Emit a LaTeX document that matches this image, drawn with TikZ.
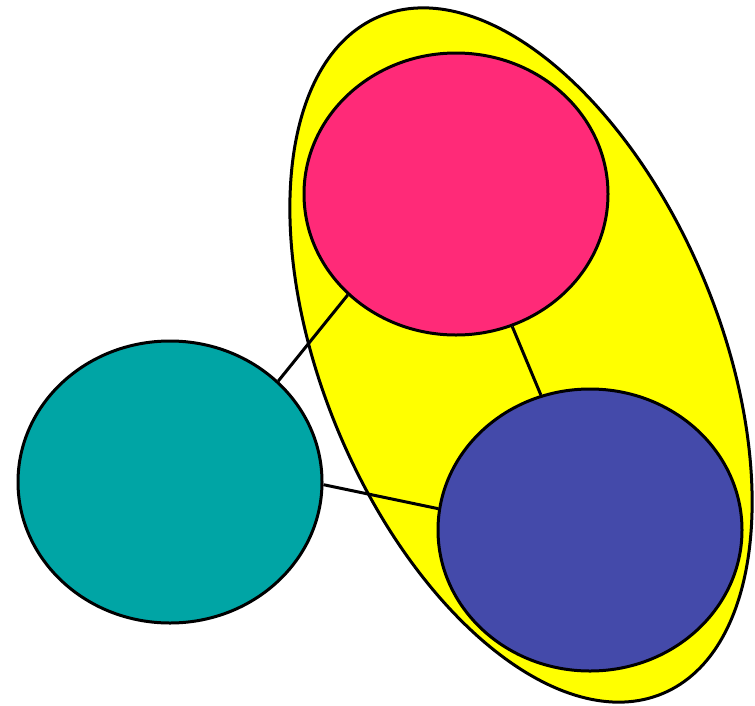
\documentclass[tikz,border=0pt]{standalone}
\usetikzlibrary{shapes.geometric}
\definecolor{pinkc}{RGB}{255,42,120}
\definecolor{tealc}{RGB}{0,165,165}
\definecolor{bluec}{RGB}{68,74,170}
\definecolor{yellowc}{RGB}{255,255,0}
\begin{document}
\begin{tikzpicture}[x=1pt,y=-1pt,
  blob/.style={ellipse,draw=black,line width=3pt,minimum width=304pt,minimum height=282pt,inner sep=0pt},
  link/.style={draw=black,line width=3pt}]
\useasboundingbox (0,0) rectangle (755,705);
\node[ellipse,draw=black,line width=3pt,fill=yellowc,minimum width=734pt,minimum height=396pt,inner sep=0pt,rotate=-67.3] (group) at (521,355) {};
\node[blob,fill=pinkc] (pink) at (456,194) {};
\node[blob,fill=tealc] (teal) at (170,482) {};
\node[blob,fill=bluec] (blue) at (590,530) {};
\draw[link] (pink.223) -- (teal.43);
\draw[link] (pink.293) -- (blue.110);
\draw[link] (teal.359) -- (blue.172);
\end{tikzpicture}
\end{document}
